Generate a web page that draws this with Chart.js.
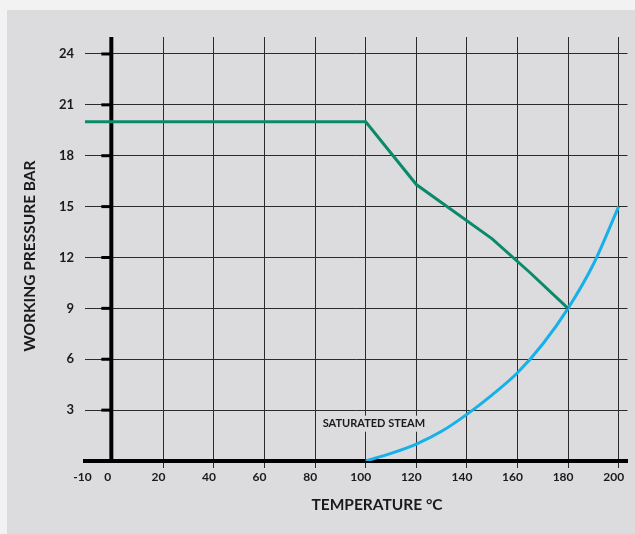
<!DOCTYPE html>
<html>
<head>
<meta charset="utf-8">
<script src="https://cdn.jsdelivr.net/npm/chart.js@4"></script>
<style>
  html, body { margin: 0; padding: 0; background: #f2f2f2; }
  canvas { display: block; }
</style>
</head>
<body>
<canvas id="pressureChart" width="635" height="534"></canvas>
<script>
// working pressure limit (bar) against temperature (°C)
var workingTemps = [-11, 100, 120, 150, 165, 180];
var workingPressures = [20, 20, 16.3, 13.1, 11.1, 9];

// saturated steam curve
var steamTemps = [100, 110, 120, 130, 140, 150, 160, 170, 180, 190, 200];
var steamPressures = [0, 0.45, 1.0, 1.75, 2.75, 3.9, 5.2, 6.9, 9.0, 11.6, 15.0];

var xTicks = [-10, 0, 20, 40, 60, 80, 100, 120, 140, 160, 180, 200];
var yTicks = [3, 6, 9, 12, 15, 18, 21, 24];

var steamLabel = 'SATURATED STEAM';
var xTitle = 'TEMPERATURE °C';
var yTitle = 'WORKING PRESSURE BAR';

var FONT = 'Lato, "Open Sans", sans-serif';
var PANEL = '#dcdcde';
var GRID = '#2b2b2b';

function toPoints(xs, ys) {
    return xs.map(function (x, i) { return { x: x, y: ys[i] }; });
}

var decorations = {
    id: 'decorations',
    beforeDraw: function (chart) {
        var c = chart.ctx;
        c.save();
        c.fillStyle = '#f2f2f2';
        c.fillRect(0, 0, chart.width, chart.height);
        c.fillStyle = PANEL;
        c.fillRect(7, 10, chart.width - 7, chart.height - 10);
        c.restore();
    },
    beforeDatasetsDraw: function (chart) {
        var c = chart.ctx;
        var xs = chart.scales.x, ys = chart.scales.y;
        var area = chart.chartArea;
        var x0 = xs.getPixelForValue(0) - 1.5;
        c.save();
        // thick vertical axis at 0 °C
        c.strokeStyle = '#000';
        c.lineWidth = 4;
        c.beginPath();
        c.moveTo(x0, area.top);
        c.lineTo(x0, area.bottom);
        c.stroke();
        // short tick marks left of that axis
        c.lineWidth = 3;
        yTicks.forEach(function (v) {
            var y = ys.getPixelForValue(v);
            c.beginPath();
            c.moveTo(x0 - 10, y);
            c.lineTo(x0, y);
            c.stroke();
        });
        // saturated steam label on a panel-coloured box
        c.font = 'bold 11px ' + FONT;
        var lx = xs.getPixelForValue(83);
        var ly = ys.getPixelForValue(2.2);
        var w = c.measureText(steamLabel).width;
        c.fillStyle = PANEL;
        c.fillRect(lx - 3, ly - 8, w + 6, 16);
        c.fillStyle = '#1a1a1a';
        c.textAlign = 'left';
        c.textBaseline = 'middle';
        c.fillText(steamLabel, lx, ly);
        c.restore();
    },
    afterDraw: function (chart) {
        var c = chart.ctx;
        c.save();
        c.fillStyle = '#1a1a1a';
        c.font = 'bold 15.5px ' + FONT;
        c.textAlign = 'center';
        c.textBaseline = 'middle';
        c.fillText(xTitle, 377, 504.5);
        c.translate(30, 256);
        c.rotate(-Math.PI / 2);
        c.fillText(yTitle, 0, 0);
        c.restore();
    }
};

var ctx = document.getElementById('pressureChart').getContext('2d');
var pressureChart = new Chart(ctx, {
    type: 'line',
    data: {
        datasets: [{
            label: 'Working pressure',
            data: toPoints(workingTemps, workingPressures),
            borderColor: '#0b8a6b',
            borderWidth: 3,
            pointRadius: 0,
            tension: 0,
            fill: false
        }, {
            label: 'Saturated steam',
            data: toPoints(steamTemps, steamPressures),
            borderColor: '#16b0ea',
            borderWidth: 3,
            pointRadius: 0,
            cubicInterpolationMode: 'monotone',
            fill: false
        }]
    },
    options: {
        responsive: false,
        animation: false,
        layout: { padding: { top: 37, right: 7.5, left: 0, bottom: 0 } },
        plugins: {
            legend: { display: false },
            tooltip: { enabled: false }
        },
        scales: {
            x: {
                type: 'linear',
                min: -11,
                max: 203.5,
                afterBuildTicks: function (scale) {
                    scale.ticks = xTicks.map(function (v) { return { value: v }; });
                },
                afterFit: function (scale) { scale.height = 73; },
                grid: {
                    color: function (c) { return c.tick && c.tick.value <= 0 ? 'rgba(0,0,0,0)' : GRID; },
                    tickColor: function (c) { return c.tick && c.tick.value <= 0 ? 'rgba(0,0,0,0)' : GRID; },
                    lineWidth: 1,
                    tickWidth: 1,
                    tickLength: 7
                },
                border: { display: true, color: '#000', width: 4 },
                ticks: {
                    color: '#1a1a1a',
                    font: { family: FONT, size: 12, weight: 'bold' },
                    padding: 2,
                    labelOffset: -5,
                    autoSkip: false,
                    maxRotation: 0
                }
            },
            y: {
                type: 'linear',
                min: 0,
                max: 25,
                afterBuildTicks: function (scale) {
                    scale.ticks = yTicks.map(function (v) { return { value: v }; });
                },
                afterFit: function (scale) { scale.width = 85; },
                grid: { color: GRID, lineWidth: 1, drawTicks: false },
                border: { display: false },
                ticks: {
                    color: '#1a1a1a',
                    font: { family: FONT, size: 13, weight: 'bold' },
                    padding: 11
                }
            }
        }
    },
    plugins: [decorations]
});
</script>
</body>
</html>
